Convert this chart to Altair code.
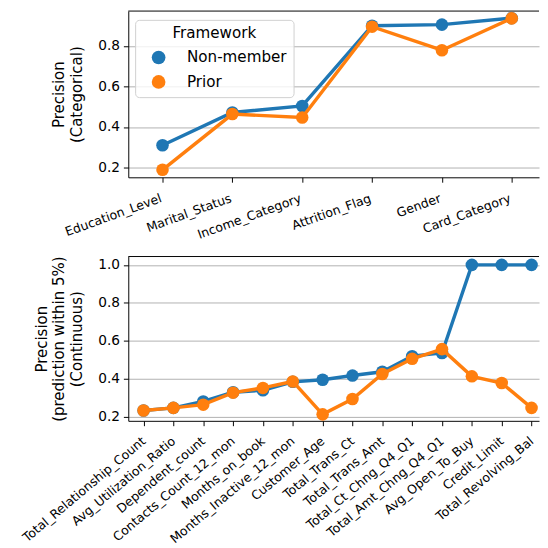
import json
import altair as alt
import pandas as pd

# ---- data ----
series = ["Non-member", "Prior"]
colors = ["#1f77b4", "#ff7f0e"]

cat_features = ["Education_Level", "Marital_Status", "Income_Category",
                "Attrition_Flag", "Gender", "Card_Category"]
cat_nonmember = [0.310, 0.472, 0.504, 0.900, 0.905, 0.937]
cat_prior = [0.189, 0.464, 0.447, 0.895, 0.779, 0.936]

cont_features = ["Total_Relationship_Count", "Avg_Utilization_Ratio", "Dependent_count",
                 "Contacts_Count_12_mon", "Months_on_book", "Months_Inactive_12_mon",
                 "Customer_Age", "Total_Trans_Ct", "Total_Trans_Amt", "Total_Ct_Chng_Q4_Q1",
                 "Total_Amt_Chng_Q4_Q1", "Avg_Open_To_Buy", "Credit_Limit", "Total_Revolving_Bal"]
cont_nonmember = [0.234, 0.248, 0.282, 0.330, 0.341, 0.385, 0.396, 0.418, 0.438, 0.520,
                  0.537, 1.000, 1.000, 1.000]
cont_prior = [0.234, 0.248, 0.265, 0.328, 0.353, 0.387, 0.214, 0.295, 0.426, 0.506,
              0.557, 0.414, 0.379, 0.248]

W = 420
FONT = "DejaVu Sans"


def make_df(features, nm, pr):
    rows = []
    for name, vals in zip(series, [nm, pr]):
        for i, (f, v) in enumerate(zip(features, vals)):
            rows.append({"idx": i, "feature": f, "framework": name, "precision": v})
    return pd.DataFrame(rows)


def panel(features, nm, pr, xdomain, ydomain, yvalues, ytitle, angle, lpad, height):
    df = make_df(features, nm, pr)
    label_expr = json.dumps(features) + "[datum.value]"
    x = alt.X("idx:Q",
              scale=alt.Scale(domain=xdomain, nice=False, zero=False),
              axis=alt.Axis(title=None, values=list(range(len(features))),
                            labelExpr=label_expr, labelAngle=angle,
                            labelAlign="right", labelBaseline="top",
                            labelFontSize=12.8, labelPadding=lpad, labelOffset=-4,
                            grid=False, labelOverlap=False, labelFlush=False,
                            labelBound=False))
    y = alt.Y("precision:Q",
              scale=alt.Scale(domain=ydomain, nice=False, zero=False),
              axis=alt.Axis(title=ytitle, values=yvalues, format=".1f", grid=True,
                            labelFontSize=14, titleFontSize=15.3, titleLineHeight=17.8,
                            titlePadding=14, labelPadding=4))
    legend = alt.Legend(title="Framework", orient="none", legendX=7, legendY=9,
                        symbolType="circle", symbolSize=196, symbolOffset=9,
                        labelFontSize=15.5, titleFontSize=15.5, titleFontWeight="normal",
                        labelOffset=21, rowPadding=8, titlePadding=8, padding=7,
                        titleAnchor="middle", titleAlign="center",
                        strokeColor="#d0d0d0", fillColor="rgba(255,255,255,0.8)",
                        cornerRadius=4, labelColor="black", titleColor="black",
                        labelFont=FONT, titleFont=FONT)
    cscale = alt.Scale(domain=series, range=colors)
    layers = []
    for s, c in zip(series, colors):
        base = alt.Chart(df).transform_filter(alt.datum.framework == s)
        layers.append(base.mark_line(strokeWidth=3.5, color=c).encode(x=x, y=y))
        layers.append(base.mark_circle(size=165, opacity=1).encode(
            x=x, y=y, color=alt.Color("framework:N", scale=cscale, legend=legend)))
    top_line = alt.Chart(pd.DataFrame({"k": [0]})).mark_rule(
        color="black", strokeWidth=1).encode(
        x=alt.value(0), x2=alt.value(W), y=alt.value(0))
    return alt.layer(*layers, top_line).properties(width=W, height=height)


top = panel(cat_features, cat_nonmember, cat_prior,
            [-0.49, 5.39], [0.152, 0.972], [0.2, 0.4, 0.6, 0.8],
            ["Precision", "(Categorical)"], -20, 10, 170)
bottom = panel(cont_features, cont_nonmember, cont_prior,
               [-0.511, 13.25], [0.18, 1.044], [0.2, 0.4, 0.6, 0.8, 1.0],
               ["Precision", "(prediction within 5%)", "(Continuous)"], -40, 9, 168)

chart = alt.vconcat(top, bottom, spacing=14).properties(
    padding={"left": 12, "top": -4, "right": 0, "bottom": 0}
).configure_view(stroke=None).configure_axis(
    domainColor="black", tickColor="black", tickSize=5, tickWidth=1,
    gridColor="#b0b0b0", gridWidth=1, labelColor="black", titleColor="black",
    labelFont=FONT, titleFont=FONT, titleFontWeight="normal"
)

chart.save("out.html", embed_options={"renderer": "svg", "actions": False})
